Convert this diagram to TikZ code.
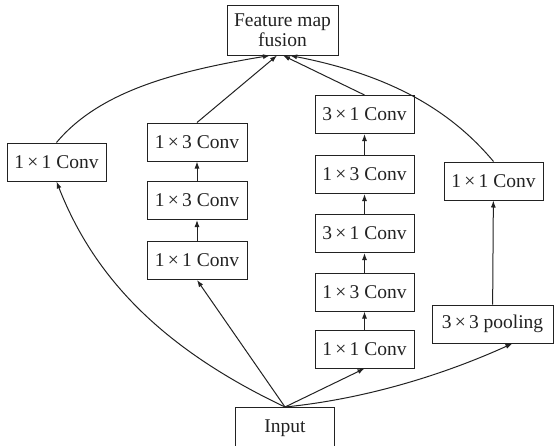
\documentclass[tikz,border=0pt]{standalone}
\usepackage{fontspec}
\setmainfont{Liberation Serif}
\usetikzlibrary{arrows.meta}
\definecolor{ink}{HTML}{222222}
\begin{document}
\begin{tikzpicture}[x=1pt,y=-1pt,
  box/.style={draw=ink,line width=1pt,text=ink,inner sep=0pt,align=center,
    font=\fontsize{19.5}{20}\selectfont},
  cb/.style={box,minimum width=99pt,minimum height=38pt},
  arr/.style={draw=ink,line width=1pt,-{Latex[length=7pt,width=5pt]}}]
\useasboundingbox (0,0) rectangle (554,445);
\node[box,minimum width=111pt,minimum height=50pt] (F) at (282.5,30) {Feature map\\fusion};
\node[cb] (L1) at (56.5,162) {1\,×\,1 Conv};
\node[cb,minimum width=100pt] (M3) at (197,142) {1\,×\,3 Conv};
\node[cb,minimum width=100pt] (M2) at (197,200.5) {1\,×\,3 Conv};
\node[cb,minimum width=100pt] (M1) at (197,260.5) {1\,×\,1 Conv};
\node[cb] (R5) at (364.5,114.5) {3\,×\,1 Conv};
\node[cb] (R4) at (364.5,174.5) {1\,×\,3 Conv};
\node[cb] (R3) at (364.5,233.5) {3\,×\,1 Conv};
\node[cb] (R2) at (364.5,292) {1\,×\,3 Conv};
\node[cb] (R1) at (364.5,349) {1\,×\,1 Conv};
\node[cb] (P1) at (493.5,181) {1\,×\,1 Conv};
\node[cb,minimum width=121pt] (PL) at (492.5,324) {3\,×\,3 pooling};
\node[cb,minimum height=41pt] (IN) at (285,428) {Input};
\coordinate (f1) at (270,55.5);
\coordinate (f2) at (277,55.5);
\coordinate (f3) at (283,55.5);
\coordinate (f4) at (290,55.5);
% bottom connectors
\draw[arr] (IN.north) .. controls (165,350) and (95,280) .. (L1.south);
\draw[arr] (IN.north) -- (M1.south);
\draw[arr] (IN.north) -- (R1.south);
\draw[arr] (IN.north) .. controls (365,399) and (443,375) .. ([xshift=20pt]PL.south);
% column arrows
\draw[arr] (M1) -- (M2);
\draw[arr] (M2) -- (M3);
\draw[arr] (R1) -- (R2);
\draw[arr] (R2) -- (R3);
\draw[arr] (R3) -- (R4);
\draw[arr] (R4) -- (R5);
\draw[arr] (PL) -- (P1);
% top connectors
\draw[arr] (L1.north) .. controls (98,93) and (170,72) .. (f1);
\draw[arr] (M3.north) -- (f2);
\draw[arr] (R5.north) -- (f3);
\draw[arr] (P1.north) .. controls (448,107) and (385,74) .. (f4);
\end{tikzpicture}
\end{document}
